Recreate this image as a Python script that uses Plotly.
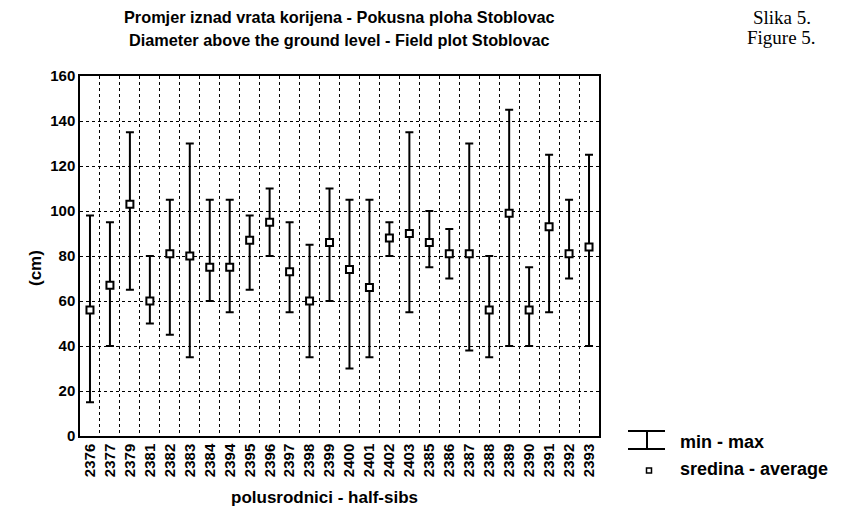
import plotly.graph_objects as go

# ---- data ----
categories = ["2376", "2377", "2379", "2381", "2382", "2383", "2384", "2394", "2395",
              "2396", "2397", "2398", "2399", "2400", "2401", "2402", "2403", "2385",
              "2386", "2387", "2388", "2389", "2390", "2391", "2392", "2393"]
mean_vals = [56, 67, 103, 60, 81, 80, 75, 75, 87, 95, 73, 60, 86, 74, 66, 88, 90, 86,
             81, 81, 56, 99, 56, 93, 81, 84]
max_vals = [98, 95, 135, 80, 105, 130, 105, 105, 98, 110, 95, 85, 110, 105, 105, 95, 135,
            100, 92, 130, 80, 145, 75, 125, 105, 125]
min_vals = [15, 40, 65, 50, 45, 35, 60, 55, 65, 80, 55, 35, 60, 30, 35, 80, 55, 75,
            70, 38, 35, 40, 40, 55, 70, 40]
y_ticks = [0, 20, 40, 60, 80, 100, 120, 140, 160]

# page body has an 8px margin; figure sized so the plot lands where the reference has it
OFF = 8
W, H = 841 - OFF, 525 - OFF
L, T = 80 - OFF, 76 - OFF
PW, PH = 519, 360
R = W - L - PW
B = H - T - PH


def px(x):
    return (x - OFF - L) / PW


def py(y):
    return (T + PH - (y - OFF)) / PH


FONT = "Liberation Sans, Arial, sans-serif"
SERIF = "Liberation Serif, Times New Roman, serif"

fig = go.Figure()
fig.add_trace(go.Scatter(
    x=categories, y=mean_vals, mode="markers",
    marker=dict(symbol="square", size=7, color="white",
                line=dict(color="black", width=2)),
    error_y=dict(type="data", symmetric=False,
                 array=[mx - m for mx, m in zip(max_vals, mean_vals)],
                 arrayminus=[m - mn for mn, m in zip(min_vals, mean_vals)],
                 color="black", thickness=2, width=4),
    showlegend=False, hoverinfo="skip"))

fig.update_layout(
    width=W, height=H,
    margin=dict(l=L, r=R, t=T, b=B, autoexpand=False),
    paper_bgcolor="white", plot_bgcolor="white",
    font=dict(family=FONT, color="black"),
    showlegend=False,
    xaxis=dict(type="category", tickson="boundaries", showgrid=True,
               gridcolor="black", griddash="dot", gridwidth=1,
               showline=True, linecolor="black", linewidth=1.5, mirror=True,
               ticks="", tickangle=-90,
               tickfont=dict(family=FONT, size=15, weight="bold"),
               range=[-0.5, len(categories) - 0.5]),
    yaxis=dict(range=[0, 160], tickvals=y_ticks, showgrid=True,
               gridcolor="black", griddash="dot", gridwidth=1,
               showline=True, linecolor="black", linewidth=1.5, mirror=True,
               ticks="", zeroline=False,
               tickfont=dict(family=FONT, size=15, weight="bold")),
)

ann = [
    dict(text="Promjer iznad vrata korijena - Pokusna ploha Stoblovac", x=px(339), y=py(17),
         font=dict(size=16.3, weight="bold")),
    dict(text="Diameter above the ground level - Field plot Stoblovac", x=px(339), y=py(40),
         font=dict(size=16.3, weight="bold")),
    dict(text="Slika 5.", x=px(782), y=py(18), font=dict(size=19, family=SERIF)),
    dict(text="Figure 5.", x=px(781), y=py(38), font=dict(size=19, family=SERIF)),
    dict(text="(cm)", x=px(35), y=py(268), textangle=-90,
         font=dict(size=17, weight="bold")),
    dict(text="polusrodnici - half-sibs", x=px(324), y=py(497),
         font=dict(size=17, weight="bold")),
    dict(text="min - max", x=px(679), y=py(442), xanchor="left",
         font=dict(size=18, weight="bold")),
    dict(text="sredina - average", x=px(679), y=py(469), xanchor="left",
         font=dict(size=18, weight="bold")),
]
for a in ann:
    a.setdefault("xanchor", "center")
    fig.add_annotation(xref="paper", yref="paper", yanchor="middle", showarrow=False,
                       borderpad=0, **a)

line = dict(color="black", width=2)
fig.add_shape(type="line", xref="paper", yref="paper", x0=px(628), x1=px(665),
              y0=py(431), y1=py(431), line=line)
fig.add_shape(type="line", xref="paper", yref="paper", x0=px(628), x1=px(665),
              y0=py(449), y1=py(449), line=line)
fig.add_shape(type="line", xref="paper", yref="paper", x0=px(647), x1=px(647),
              y0=py(431), y1=py(449), line=line)
fig.add_shape(type="rect", xref="paper", yref="paper", x0=px(646.5), x1=px(651.5),
              y0=py(468), y1=py(473), line=dict(color="black", width=1.5),
              fillcolor="white")

fig.write_html("out.html")
